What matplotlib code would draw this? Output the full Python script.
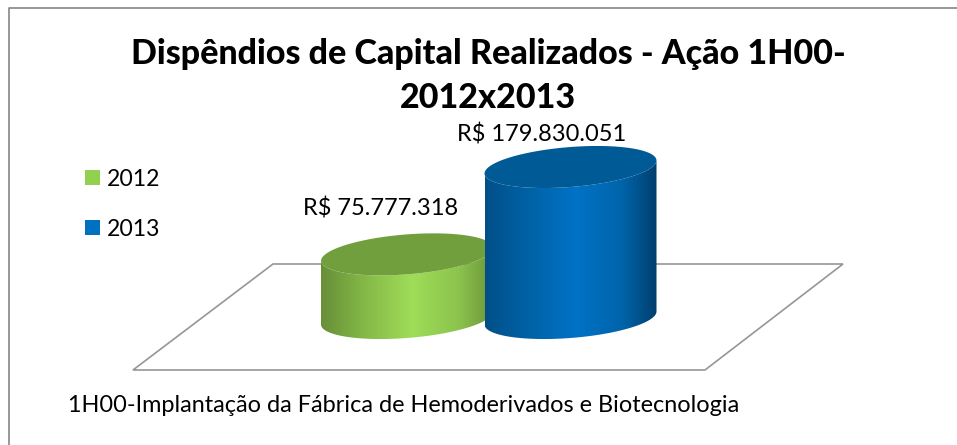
import numpy as np
import matplotlib
matplotlib.use('Agg')
import matplotlib.pyplot as plt
import matplotlib.patches as patches
from matplotlib.colors import LinearSegmentedColormap

plt.rcParams['font.family'] = ['Lato', 'DejaVu Sans']

title = "Dispêndios de Capital Realizados - Ação 1H00-\n2012x2013"
category = "1H00-Implantação da Fábrica de Hemoderivados e Biotecnologia"
years = ['2012', '2013']
values = [75777318, 179830051]
labels = ['R$ 75.777.318', 'R$ 179.830.051']

colors = ['#92d050', '#0070c0']
tops = ['#729f3e', '#005a96']
ramps = [['#688f38', '#86bb48', '#9fdd58', '#8cc44d', '#6c9539'],
         ['#004f88', '#0063a8', '#0072c6', '#0064aa', '#003f6e']]

# pixel layout of the picture
W, H = 957, 445
centers = [407, 570.5]
bases = [318, 318]
half_w = 86
half_h = 20
tilt = 6.5
px_per_value = 151 / 179830051

fig = plt.figure(figsize=(W / 100, H / 100), dpi=100)
ax = fig.add_axes([0, 0, 1, 1])


def ellipse(cx, cy, n=100):
    t = np.linspace(0, 2 * np.pi, n)
    return cx + half_w * np.cos(t), cy - half_h * np.sin(t) - tilt * np.cos(t)


def cylinder(cx, base, value, ramp, top, z):
    cy = base - value * px_per_value
    t = np.linspace(0, np.pi, 60)
    # front of the bottom ellipse then back along the front of the top one
    xb = cx - half_w * np.cos(t)
    yb = base + half_h * np.sin(t) + tilt * np.cos(t)
    xt = cx + half_w * np.cos(t)
    yt = cy + half_h * np.sin(t) - tilt * np.cos(t)
    verts = np.vstack([np.column_stack([xb, yb]), np.column_stack([xt, yt])])
    side = patches.Polygon(verts, closed=True, fc='none', ec='none', transform=ax.transData)
    ax.add_patch(side)
    cmap = LinearSegmentedColormap.from_list('c', list(zip([0, 0.27, 0.53, 0.8, 1], ramp)))
    im = ax.imshow(np.linspace(0, 1, 256)[None, :], cmap=cmap, aspect='auto', zorder=z,
                   extent=[cx - half_w, cx + half_w, base + 40, cy - 40])
    im.set_clip_path(side)
    ex, ey = ellipse(cx, cy)
    ax.fill(ex, ey, color=top, lw=0, zorder=z + 0.5)


# frame and floor
ax.plot([9, 9, W], [H, 8, 8], color='#868686', lw=1.2)
ax.add_patch(patches.Polygon([[273, 264], [843, 264], [705, 370], [133, 370]], closed=True,
                             fc='white', ec='#969696', lw=1.2))

for i in range(2):
    cylinder(centers[i], bases[i], values[i], ramps[i], tops[i], 3 + i)

ax.text(488, 64, title.split('\n')[0], fontsize=24.5, fontweight='black', ha='center', va='baseline')
ax.text(488, 108, title.split('\n')[1], fontsize=24.5, fontweight='black', ha='center', va='baseline')

label_x = [381, 541.5]
label_y = [215, 141]
for i in range(2):
    ax.text(label_x[i], label_y[i], labels[i], fontsize=17, ha='center', va='baseline', zorder=6)

leg_y = [170, 220]
for i in range(2):
    ax.add_patch(patches.Rectangle((85, leg_y[i]), 15, 15, fc=colors[i], ec='none'))
    ax.text(107, leg_y[i] + 15.5, years[i], fontsize=16.6, ha='left', va='baseline')

ax.text(68, 412, category, fontsize=16.9, ha='left', va='baseline')

ax.set_xlim(0, W)
ax.set_ylim(H, 0)
ax.axis('off')
fig.savefig('out.png', dpi=100)
